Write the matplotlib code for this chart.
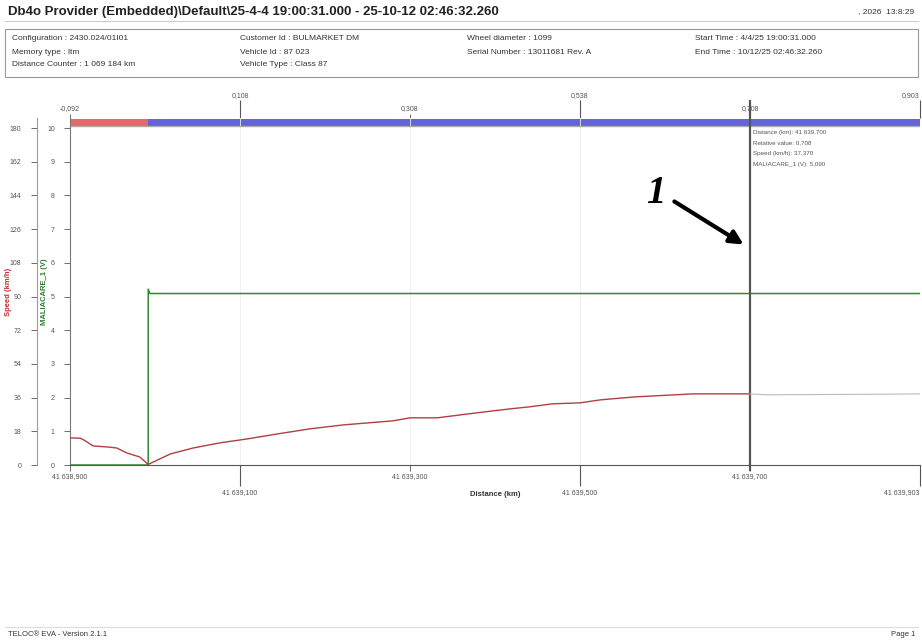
import matplotlib
matplotlib.use('Agg')
import matplotlib.pyplot as plt

plt.rcParams['font.family'] = ['Liberation Sans', 'DejaVu Sans']

# distance (km) / speed (km/h) up to the cursor
dist = [41638.900, 41638.912, 41638.917, 41638.927, 41638.945, 41638.955, 41638.967, 41638.982, 41638.992,
        41639.018, 41639.045, 41639.076, 41639.108, 41639.144, 41639.182, 41639.221, 41639.280,
        41639.300, 41639.332, 41639.379, 41639.418, 41639.441, 41639.468, 41639.500, 41639.524,
        41639.539, 41639.565, 41639.633, 41639.700]
speed = [14.5, 14.3, 13.2, 10.2, 9.6, 9.1, 6.4, 4.3, 0.3,
         5.9, 9.1, 11.8, 13.9, 16.6, 19.3, 21.4, 23.6,
         25.2, 25.2, 27.9, 30.0, 31.1, 32.7, 33.2, 34.8,
         35.4, 36.4, 38.0, 38.0]
# part after the cursor
dist_after = [41639.700, 41639.720, 41639.760, 41639.850, 41639.900]
speed_after = [38.0, 37.5, 37.6, 37.8, 38.0]

# MALIACARE_1 voltage
volt_x = [41638.900, 41638.992, 41638.992, 41638.994, 41639.900]
volt_y = [0.0, 0.0, 5.22, 5.09, 5.09]

# state band
band_start = [41638.900, 41638.992]
band_end = [41638.992, 41639.900]
band_col = ['#e46a6a', '#6464d6']

origin = 41638.992
bottom_ticks = [41638.900, 41639.100, 41639.300, 41639.500, 41639.700, 41639.900]
bottom_labels = ['41 638,900', '41 639,100', '41 639,300', '41 639,500', '41 639,700', '41 639,903']
top_labels = ['-0,092', '0,108', '0,308', '0,538', '0,708', '0,903']

cursor_x = 41639.700
cursor_text = ['Distance (km): 41 639,700', 'Relative value: 0,708',
               'Speed (km/h): 37,370', 'MALIACARE_1 (V): 5,090']

header = [('Configuration : 2430.024/01I01', 'Customer Id : BULMARKET DM',
           'Wheel diameter : 1099', 'Start Time : 4/4/25 19:00:31.000'),
          ('Memory type : ltm', 'Vehicle Id : 87 023',
           'Serial Number : 13011681 Rev. A', 'End Time : 10/12/25 02:46:32.260'),
          ('Distance Counter : 1 069 184 km', 'Vehicle Type : Class 87', '', '')]

W, H = 922, 641
fig = plt.figure(figsize=(W / 100, H / 100), dpi=100)

def fx(px):
    return px / W

def fy(py):
    return 1 - py / H

# header
fig.text(fx(8), fy(12), 'Db4o Provider (Embedded)\\Default\\25-4-4 19:00:31.000 - 25-10-12 02:46:32.260',
         fontsize=9.5, fontweight='bold', va='center', color='#222222')
fig.text(fx(914), fy(12), ', 2026  13:8:29', fontsize=6, ha='right', va='center', color='#333333')
fig.add_artist(plt.Line2D([fx(5), fx(918)], [fy(21), fy(21)], color='#cccccc', lw=0.8))
fig.add_artist(plt.Rectangle((fx(5), fy(77)), fx(913), 48 / H, fill=False, ec='#999999', lw=0.8))
cols = [12, 240, 467, 695]
for r, row in enumerate(header):
    for c, txt in enumerate(row):
        fig.text(fx(cols[c]), fy(39 + 13 * r), txt, fontsize=6, va='center', color='#333333')

# footer
fig.add_artist(plt.Line2D([fx(5), fx(918)], [fy(627), fy(627)], color='#dddddd', lw=0.8))
fig.text(fx(8), fy(634), 'TELOC® EVA - Version 2.1.1', fontsize=5.5, va='center', color='#333333')
fig.text(fx(915), fy(634), 'Page 1', fontsize=5.5, ha='right', va='center', color='#333333')

# main axes (voltage)
ax = fig.add_axes([fx(70), fy(465), fx(850), 347 / H])
ax.set_xlim(41638.900, 41639.900)
ax.set_ylim(0, 10.3)
for s in ['top', 'right']:
    ax.spines[s].set_visible(False)
ax.spines['left'].set_color('#777777')
ax.spines['bottom'].set_color('#555555')
ax.set_yticks(range(0, 11))
ax.tick_params(axis='y', labelsize=5, colors='#555555', length=4, width=0.6, pad=7)
ax.set_ylabel('MALIACARE_1 (V)', color='#2e7d2e', fontsize=5.5, fontweight='bold')
ax.yaxis.set_label_coords(-0.026, 0.5)

# bottom distance axis, staggered labels
ax.set_xticks(bottom_ticks[0::2], bottom_labels[0::2], minor=True)
ax.set_xticks(bottom_ticks[1::2], bottom_labels[1::2])
ax.tick_params(axis='x', which='minor', length=4, width=0.6, labelsize=5, colors='#555555', pad=2)
ax.tick_params(axis='x', which='major', length=15, width=0.8, labelsize=5, colors='#555555', pad=2)
ax.get_xticklabels()[-1].set_ha('right')
ax.set_xlabel('Distance (km)', fontsize=5.5, fontweight='bold', color='#333333', labelpad=-3)
ax.grid(axis='x', which='both', color='#eeeeee', lw=0.6)

# top relative axis
top = ax.secondary_xaxis('top', functions=(lambda d: d - origin, lambda r: r + origin))
rel = [t - origin for t in bottom_ticks]
top.set_xticks(rel[0::2], top_labels[0::2], minor=True)
top.set_xticks(rel[1::2], top_labels[1::2])
top.tick_params(which='minor', length=3, width=0.6, labelsize=5, colors='#555555', pad=1)
top.tick_params(which='major', length=13, width=0.8, labelsize=5, colors='#555555', pad=1)
top.get_xticklabels()[-1].set_ha('right')
top.spines['top'].set_visible(False)

# state band
for s, e, c in zip(band_start, band_end, band_col):
    ax.fill_between([s, e], 10.07, 10.28, color=c, lw=0)
ax.axhline(10.05, color='#aaaaaa', lw=1)

ax.plot(volt_x, volt_y, color='#2e8b2e', lw=1.1, zorder=3)

# speed axis
ax_s = ax.twinx()
ax_s.set_ylim(0, 10.3 * 18)
ax_s.spines['right'].set_visible(False)
ax_s.spines['top'].set_visible(False)
ax_s.spines['bottom'].set_visible(False)
ax_s.spines['left'].set_visible(True)
ax_s.spines['left'].set_position(('outward', 24))
ax_s.spines['left'].set_color('#d98080')
ax_s.yaxis.set_ticks_position('left')
ax_s.yaxis.set_label_position('left')
ax_s.set_yticks(range(0, 181, 18))
ax_s.tick_params(axis='y', labelsize=5, colors='#555555', length=4, width=0.6, pad=7)
ax_s.set_ylabel('Speed (km/h)', color='#c03030', fontsize=5.5, fontweight='bold')
ax_s.yaxis.set_label_coords(-0.068, 0.5)

ax_s.plot(dist, speed, color='#b04040', lw=1.0)
ax_s.plot(dist_after, speed_after, color='#bbbbbb', lw=0.8)

# cursor
ax.axvline(cursor_x, ymin=-0.015, ymax=1.05, color='#555555', lw=1.6, clip_on=False, zorder=4)
for i, t in enumerate(cursor_text):
    ax.text(cursor_x + 0.003, 9.88 - i * 0.32, t, fontsize=4.5, color='#555555', va='center')

# marker annotation
fig.text(fx(656), fy(194), '1', fontsize=28, fontweight='bold', fontstyle='italic',
         family='Liberation Serif', ha='center', va='center')
fig.add_artist(matplotlib.patches.FancyArrowPatch((fx(672), fy(200)), (fx(746), fy(246)),
               transform=fig.transFigure, arrowstyle='-|>,head_length=8,head_width=4',
               color='black', lw=3))

fig.savefig('out.png', dpi=100)
